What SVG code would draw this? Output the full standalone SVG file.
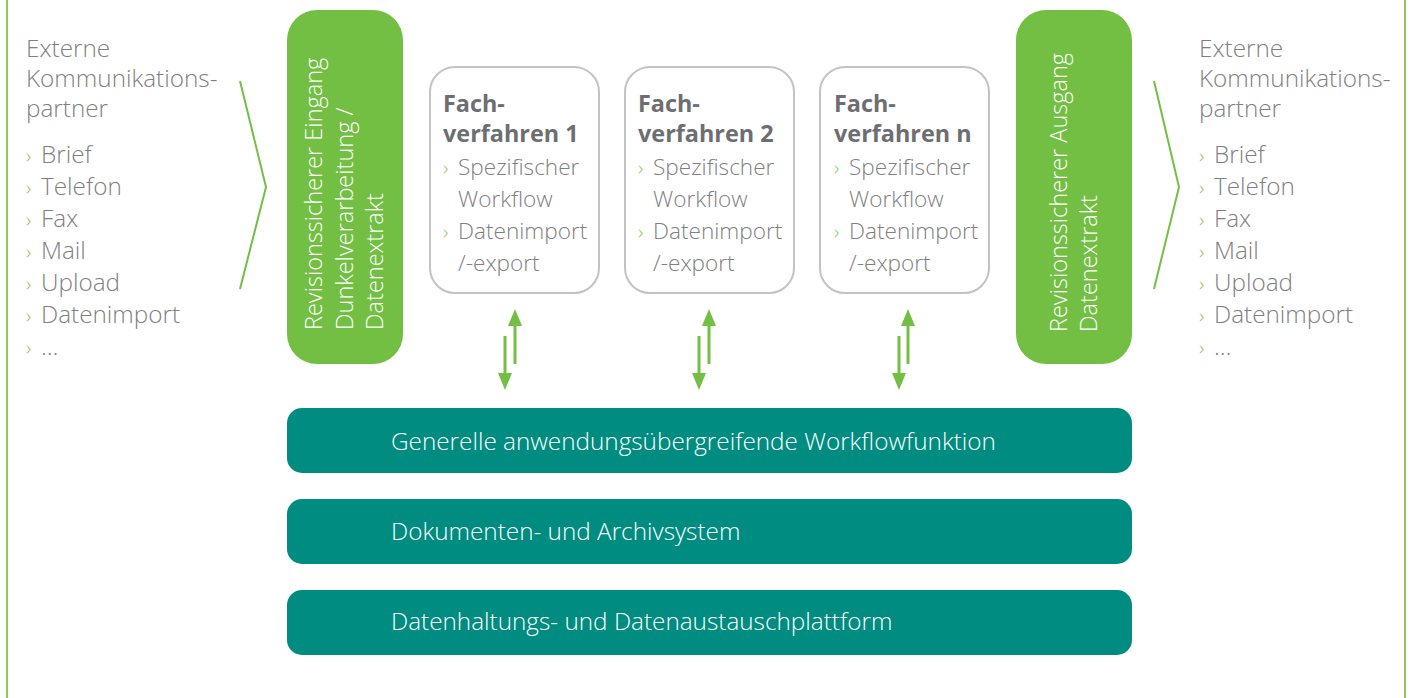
<svg xmlns="http://www.w3.org/2000/svg" width="1411" height="698" viewBox="0 0 1411 698">
  <defs>
    <style>
      .txt { font-family: "Open Sans", "Noto Sans", "Liberation Sans", sans-serif; font-weight: 300; font-size: 24.3px; fill: #808080; }
      .side { font-size: 23.5px; }
      .box { font-size: 22.6px; }
      .bul { fill: #8cc85a; font-size: 21px; }
      .head { font-weight: 700; fill: #6d6e71; font-size: 23.4px; }
      .white { fill: #ffffff; }
      .green { fill: #72bf44; }
      .teal { fill: #008c80; }
      .fach { fill: #ffffff; stroke: #c3c3c3; stroke-width: 2; }
      .frame { stroke: #8cc85a; stroke-width: 2; fill: none; }
      .chev { stroke: #72bf44; stroke-width: 2; fill: none; stroke-linejoin: miter; }
      .arr { stroke: #72bf44; stroke-width: 3; fill: none; marker-end: url(#head); }
    </style>
    <marker id="head" markerUnits="userSpaceOnUse" markerWidth="18" markerHeight="14" refX="0" refY="7" orient="auto">
      <path d="M0,0 L17,7 L0,14 z" fill="#72bf44"/>
    </marker>
  </defs>

  <rect width="1411" height="698" fill="#ffffff"/>

  <!-- side frame lines -->
  <line class="frame" x1="7" y1="0" x2="7" y2="698"/>
  <line class="frame" x1="1405" y1="0" x2="1405" y2="698"/>

  <!-- incoming partners -->
  <g id="partner-in" class="txt">
    <text x="26" y="57">Externe</text>
    <text x="26" y="87">Kommunikations-</text>
    <text x="26" y="117">partner</text>
    <text x="26" y="163"><tspan class="bul">›</tspan><tspan x="41">Brief</tspan></text>
    <text x="26" y="195"><tspan class="bul">›</tspan><tspan x="41">Telefon</tspan></text>
    <text x="26" y="227"><tspan class="bul">›</tspan><tspan x="41">Fax</tspan></text>
    <text x="26" y="259"><tspan class="bul">›</tspan><tspan x="41">Mail</tspan></text>
    <text x="26" y="291"><tspan class="bul">›</tspan><tspan x="41">Upload</tspan></text>
    <text x="26" y="323"><tspan class="bul">›</tspan><tspan x="41">Datenimport</tspan></text>
    <text x="26" y="355"><tspan class="bul">›</tspan><tspan x="41">…</tspan></text>
  </g>

  <!-- outgoing partners -->
  <g id="partner-out" class="txt">
    <text x="1199" y="57">Externe</text>
    <text x="1199" y="87">Kommunikations-</text>
    <text x="1199" y="117">partner</text>
    <text x="1199" y="163"><tspan class="bul">›</tspan><tspan x="1214">Brief</tspan></text>
    <text x="1199" y="195"><tspan class="bul">›</tspan><tspan x="1214">Telefon</tspan></text>
    <text x="1199" y="227"><tspan class="bul">›</tspan><tspan x="1214">Fax</tspan></text>
    <text x="1199" y="259"><tspan class="bul">›</tspan><tspan x="1214">Mail</tspan></text>
    <text x="1199" y="291"><tspan class="bul">›</tspan><tspan x="1214">Upload</tspan></text>
    <text x="1199" y="323"><tspan class="bul">›</tspan><tspan x="1214">Datenimport</tspan></text>
    <text x="1199" y="355"><tspan class="bul">›</tspan><tspan x="1214">…</tspan></text>
  </g>

  <!-- inbound gateway -->
  <g id="eingang">
    <rect class="green" x="287" y="10" width="116" height="354" rx="30"/>
    <g class="txt side white" transform="translate(0,330) rotate(-90)">
      <text x="0" y="322" class="white">Revisionssicherer Eingang</text>
      <text x="0" y="353" class="white">Dunkelverarbeitung /</text>
      <text x="0" y="383" class="white">Datenextrakt</text>
    </g>
  </g>

  <!-- outbound gateway -->
  <g id="ausgang">
    <rect class="green" x="1016" y="10" width="116" height="354" rx="30"/>
    <g class="txt side white" transform="translate(0,332) rotate(-90)">
      <text x="0" y="1067" class="white">Revisionssicherer Ausgang</text>
      <text x="0" y="1097" class="white">Datenextrakt</text>
    </g>
  </g>

  <!-- specialised procedures -->
  <g id="fach1" class="txt box">
    <rect class="fach" x="430" y="67" width="169" height="226" rx="25"/>
    <text x="443" y="112" class="head">Fach-</text>
    <text x="443" y="142" class="head">verfahren 1</text>
    <text x="443" y="175"><tspan class="bul">›</tspan><tspan x="458">Spezifischer</tspan></text>
    <text x="458" y="207">Workflow</text>
    <text x="443" y="239"><tspan class="bul">›</tspan><tspan x="458">Datenimport</tspan></text>
    <text x="458" y="271">/-export</text>
  </g>
  <g id="fach2" class="txt box">
    <rect class="fach" x="625" y="67" width="169" height="226" rx="25"/>
    <text x="638" y="112" class="head">Fach-</text>
    <text x="638" y="142" class="head">verfahren 2</text>
    <text x="638" y="175"><tspan class="bul">›</tspan><tspan x="653">Spezifischer</tspan></text>
    <text x="653" y="207">Workflow</text>
    <text x="638" y="239"><tspan class="bul">›</tspan><tspan x="653">Datenimport</tspan></text>
    <text x="653" y="271">/-export</text>
  </g>
  <g id="fachn" class="txt box">
    <rect class="fach" x="820" y="67" width="169" height="226" rx="25"/>
    <text x="834" y="112" class="head">Fach-</text>
    <text x="834" y="142" class="head">verfahren n</text>
    <text x="834" y="175"><tspan class="bul">›</tspan><tspan x="849">Spezifischer</tspan></text>
    <text x="849" y="207">Workflow</text>
    <text x="834" y="239"><tspan class="bul">›</tspan><tspan x="849">Datenimport</tspan></text>
    <text x="849" y="271">/-export</text>
  </g>

  <!-- platform layers -->
  <g id="workflow">
    <rect class="teal" x="287" y="408" width="845" height="65" rx="15"/>
    <text x="391" y="450" class="txt white">Generelle anwendungsübergreifende Workflowfunktion</text>
  </g>
  <g id="archiv">
    <rect class="teal" x="287" y="499" width="845" height="65" rx="15"/>
    <text x="391" y="540" class="txt white">Dokumenten- und Archivsystem</text>
  </g>
  <g id="plattform">
    <rect class="teal" x="287" y="590" width="845" height="65" rx="15"/>
    <text x="391" y="630" class="txt white">Datenhaltungs- und Datenaustauschplattform</text>
  </g>

  <!-- connectors -->
  <g id="connectors">
    <polyline class="chev" points="240,81 266,187 240,289"/>
    <polyline class="chev" points="1154,81 1179,187 1154,289"/>
    <line class="arr" x1="515" y1="364" x2="515" y2="326"/>
    <line class="arr" x1="505" y1="336" x2="505" y2="373"/>
    <line class="arr" x1="709" y1="364" x2="709" y2="326"/>
    <line class="arr" x1="699" y1="336" x2="699" y2="373"/>
    <line class="arr" x1="908" y1="364" x2="908" y2="326"/>
    <line class="arr" x1="899" y1="336" x2="899" y2="373"/>
  </g>
</svg>
